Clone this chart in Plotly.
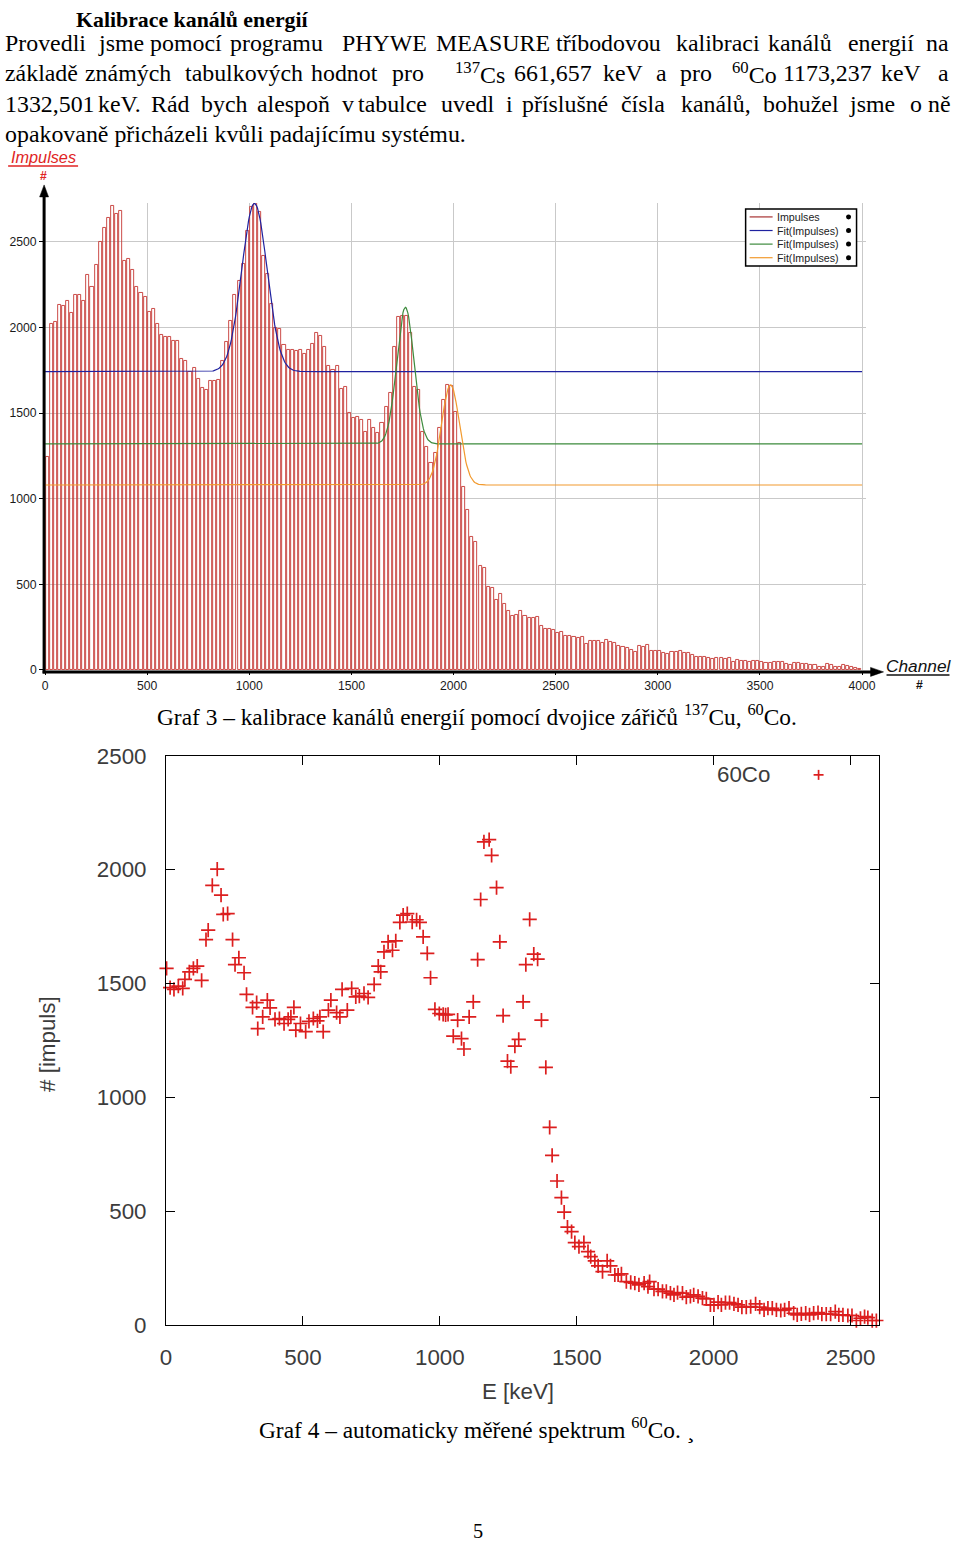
import numpy as np
import plotly.graph_objects as go

# Measured page -> photo mapping of this viewer: photo = S*(fig + margin) + C
S, CX, CY, M = 0.984, -2.0, 4.2, 8
K = 1 / S
W, H = 960, 1556


def px(t):
    return ((t - CX) / S - M) / W


def py(t):
    return 1 - ((t - CY) / S - M) / H


# ---------------- Graf 3 (PHYWE measure histogram) ----------------
bin_width = 20
impulses = [
    1246, 2020, 2035, 2133, 2125, 2153, 2088, 2188, 2188, 2153,
    2310, 2237, 2363, 2500, 2584, 2640, 2712, 2663, 2682, 2392,
    2402, 2339, 2237, 2202, 2178, 2090, 2110, 2022, 1957, 1947,
    1943, 1924, 1924, 1818, 1806, 1741, 1767, 1700, 1647, 1637,
    1688, 1688, 1692, 1806, 1914, 2039, 2192, 2271, 2369, 2565,
    2702, 2731, 2673, 2420, 2314, 2140, 1996, 1990, 1898, 1869,
    1869, 1865, 1869, 1846, 1869, 1905, 1970, 1951, 1889, 1778,
    1752, 1778, 1639, 1655, 1499, 1470, 1476, 1460, 1392, 1460,
    1412, 1382, 1441, 1538, 1616, 1889, 2064, 2067, 2067, 1966,
    1651, 1636, 1392, 1304, 1207, 1265, 1412, 1577, 1665, 1659,
    1509, 1328, 1071, 935, 779, 750, 607, 594, 483, 477,
    409, 442, 385, 346, 315, 321, 346, 315, 302, 302,
    307, 258, 237, 237, 233, 214, 224, 198, 198, 190,
    185, 190, 149, 169, 169, 169, 159, 175, 161, 156,
    142, 136, 130, 117, 107, 140, 132, 146, 113, 113,
    110, 101, 93, 107, 105, 113, 97, 97, 88, 78,
    78, 78, 68, 66, 70, 68, 64, 68, 48, 58,
    55, 55, 48, 52, 55, 48, 43, 39, 48, 48,
    48, 35, 29, 39, 39, 33, 33, 29, 27, 19,
    19, 33, 29, 19, 19, 29, 24, 15, 10, 4,
]
bin_centers = [bin_width * i + bin_width / 2 for i in range(len(impulses))]
top_x_ticks = [0, 500, 1000, 1500, 2000, 2500, 3000, 3500, 4000]
top_y_ticks = [0, 500, 1000, 1500, 2000, 2500]

# Gaussian fit parameters (centre, sigma, amplitude, baseline)
fit_center = [1025, 1764, 1985]
fit_sigma = [62, 42, 44]
fit_amplitude = [983, 798, 585]
fit_baseline = [1742, 1320, 1080]
fit_colors = ["#1f22a0", "#3d8b3d", "#f29a2e"]

# ---------------- Graf 4 (60Co spectrum) ----------------
energy_kev = [
    2, 15, 29, 45, 61, 69, 85, 100, 114, 130, 146, 154, 169, 187, 201, 209,
    225, 243, 252, 266, 285, 294, 316, 331, 335, 353, 370, 380, 398, 414,
    431, 446, 456, 467, 474, 491, 510, 522, 538, 553, 562, 574, 593, 602,
    623, 635, 643, 662, 678, 693, 706, 723, 738, 760, 775, 784, 796, 811,
    827, 839, 854, 866, 881, 899, 915, 927, 939, 954, 966, 982, 998, 1012,
    1021, 1030, 1049, 1065, 1079, 1088, 1107, 1122, 1138, 1149, 1161, 1180,
    1189, 1207, 1219, 1231, 1247, 1259, 1274, 1288, 1304, 1314, 1328, 1343,
    1357, 1371, 1387, 1401, 1410, 1428, 1444, 1454, 1466, 1481, 1493, 1508,
    1526, 1541, 1551, 1566, 1578, 1594, 1611, 1623, 1639, 1651, 1663, 1681,
    1697, 1712, 1727, 1746, 1760, 1766, 1782, 1797, 1813, 1827, 1842, 1855,
    1868, 1886, 1900, 1915, 1927, 1943, 1959, 1973, 1988, 2001, 2016, 2028,
    2043, 2058, 2074, 2089, 2103, 2119, 2135, 2153, 2168, 2184, 2198, 2214,
    2229, 2245, 2259, 2275, 2292, 2305, 2320, 2336, 2350, 2365, 2381, 2395,
    2411, 2427, 2444, 2457, 2472, 2490, 2505, 2521, 2536, 2551, 2563, 2579,
    2594,
]
impuls_counts = [
    1566, 1482, 1474, 1488, 1478, 1518, 1551, 1566, 1576, 1514, 1693, 1734,
    1931, 2002, 1888, 1804, 1807, 1693, 1583, 1613, 1547, 1452, 1395, 1416,
    1302, 1353, 1427, 1393, 1342, 1346, 1324, 1342, 1353, 1395, 1295, 1324,
    1288, 1333, 1346, 1336, 1353, 1288, 1383, 1427, 1372, 1353, 1474, 1383,
    1478, 1441, 1444, 1456, 1439, 1496, 1576, 1551, 1639, 1683, 1646, 1687,
    1768, 1800, 1807, 1770, 1780, 1768, 1705, 1632, 1525, 1386, 1368, 1364,
    1362, 1364, 1269, 1339, 1258, 1212, 1353, 1419, 1605, 1869, 2122, 2132,
    2063, 1921, 1683, 1359, 1159, 1134, 1225, 1254, 1419, 1583, 1782, 1629,
    1607, 1339, 1131, 868, 745, 632, 559, 495, 429, 410, 361, 344,
    361, 322, 300, 281, 259, 234, 281, 259, 219, 219, 224, 190,
    187, 183, 176, 183, 168, 190, 157, 157, 147, 147, 139, 132,
    142, 139, 122, 125, 132, 125, 117, 114, 88, 88, 100, 88,
    98, 98, 92, 88, 78, 78, 80, 92, 78, 66, 73, 73,
    66, 63, 66, 73, 51, 44, 48, 51, 44, 51, 54, 47,
    47, 47, 58, 44, 44, 41, 41, 19, 29, 36, 32, 19,
    19,
]
bottom_ticks = [0, 500, 1000, 1500, 2000, 2500]

fig = go.Figure()

# histogram bars (outline only)
fig.add_trace(go.Bar(
    x=bin_centers, y=impulses, width=15,
    marker=dict(color="rgba(255,255,255,0)", line=dict(color="#c53934", width=0.9)),
    xaxis="x", yaxis="y", showlegend=False, hoverinfo="skip",
))

# Gaussian fit curves
ch_grid = np.arange(0, 4001, 4)
for c, s, a, b, col in zip(fit_center, fit_sigma, fit_amplitude, fit_baseline, fit_colors):
    fit_y = b + a * np.exp(-0.5 * ((ch_grid - c) / s) ** 2)
    fig.add_trace(go.Scatter(
        x=ch_grid, y=fit_y, mode="lines", line=dict(color=col, width=1.2),
        xaxis="x", yaxis="y", showlegend=False, hoverinfo="skip",
    ))

# 60Co spectrum
fig.add_trace(go.Scatter(
    x=energy_kev, y=impuls_counts, mode="markers",
    marker=dict(symbol="cross-thin", size=10 * K, line=dict(color="#dc1e1e", width=1.7)),
    xaxis="x2", yaxis="y2", showlegend=False, cliponaxis=False,
))

top_tickfont = dict(family="Liberation Sans, Arial, sans-serif", size=12 * K, color="#1a1a1a")
bot_tickfont = dict(family="Liberation Sans, Arial, sans-serif", size=22 * K, color="#3c3c3c")

fig.update_layout(
    width=W, height=H,
    margin=dict(l=0, r=0, t=0, b=0),
    paper_bgcolor="white", plot_bgcolor="rgba(0,0,0,0)",
    bargap=0,
    xaxis=dict(
        domain=[px(44), px(866)], range=[-4.9, 4017], anchor="y",
        tickvals=top_x_ticks, ticktext=[str(v) for v in top_x_ticks],
        showgrid=True, gridcolor="#c9c9c9", gridwidth=1, zeroline=False,
        showline=False, ticks="outside", ticklen=4, tickcolor="#000", tickwidth=1,
        tickfont=top_tickfont,
    ),
    yaxis=dict(
        domain=[py(670), py(203)], range=[0, 2728], anchor="x",
        tickvals=top_y_ticks, ticktext=[str(v) for v in top_y_ticks],
        showgrid=True, gridcolor="#c9c9c9", gridwidth=1, zeroline=False,
        showline=False, ticks="outside", ticklen=4, tickcolor="#000", tickwidth=1,
        tickfont=top_tickfont,
    ),
    xaxis2=dict(
        domain=[px(166), px(879)], range=[0, 2602], anchor="y2",
        tickvals=bottom_ticks, ticktext=[str(v) for v in bottom_ticks],
        showgrid=False, zeroline=False, showline=True, linecolor="#000", linewidth=1,
        mirror="ticks", ticks="inside", ticklen=9, tickcolor="#000", tickwidth=1,
        tickfont=bot_tickfont, ticklabelstandoff=12,
    ),
    yaxis2=dict(
        domain=[py(1325), py(756)], range=[0, 2500], anchor="x2",
        tickvals=bottom_ticks, ticktext=[str(v) for v in bottom_ticks],
        showgrid=False, zeroline=False, showline=True, linecolor="#000", linewidth=1,
        mirror="ticks", ticks="inside", ticklen=9, tickcolor="#000", tickwidth=1,
        tickfont=bot_tickfont, ticklabelstandoff=14,
    ),
)

annotations = []
shapes = []

serif = "Liberation Serif, Times New Roman, serif"
sans = "Liberation Sans, Arial, sans-serif"


def text(x, y, s, size, family=serif, color="#000", xanchor="left", angle=0):
    annotations.append(dict(
        x=px(x), y=py(y), xref="paper", yref="paper", text=s, showarrow=False,
        xanchor=xanchor, yanchor="middle", textangle=angle, borderpad=0,
        font=dict(family=family, size=size * K, color=color),
    ))


def pline(x0, y0, x1, y1, color, width):
    shapes.append(dict(type="line", xref="paper", yref="paper", x0=px(x0), x1=px(x1),
                       y0=py(y0), y1=py(y1), line=dict(color=color, width=width)))


def ptri(pts, color):
    path = "M " + " L ".join(f"{px(a):.6f},{py(b):.6f}" for a, b in pts) + " Z"
    shapes.append(dict(type="path", xref="paper", yref="paper", path=path,
                       fillcolor=color, line=dict(color=color, width=0.5)))


# heading + paragraph (justified lines placed word by word)
text(75, 20, "<b>Kalibrace kanálů energií</b>", 21.5)
para_lines = [
    (43, [(4, "Provedli"), (97, "jsme"), (149, "pomocí"), (229, "programu"), (341, "PHYWE"),
          (435, "MEASURE"), (555, "tříbodovou"), (675, "kalibraci"), (767, "kanálů"),
          (847, "energií"), (925, "na")]),
    (73, [(4, "základě"), (84, "známých"), (184, "tabulkových"), (310, "hodnot"), (391, "pro"),
          (454, "<sup>137</sup>Cs"), (513, "661,657"), (602, "keV"), (655, "a"), (679, "pro"),
          (731, "<sup>60</sup>Co"), (782, "1173,237"), (880, "keV"), (938, "a")]),
    (104, [(4, "1332,501"), (97, "keV."), (150, "Rád"), (200, "bych"), (256, "alespoň"),
           (341, "v"), (357, "tabulce"), (440, "uvedl"), (505, "i"), (521, "příslušné"),
           (620, "čísla"), (680, "kanálů,"), (762, "bohužel"), (848, "jsme"), (909, "o"),
           (927, "ně")]),
    (134, [(4, "opakovaně přicházeli kvůli padajícímu systému.")]),
]
for y, words in para_lines:
    for x, w in words:
        text(x, y, w, 23.5)

# top chart axis lines with arrowheads
pline(44, 673.5, 44, 194, "#000", 3)
ptri([(39.5, 197), (44, 185), (48.5, 197)], "#000")
pline(42.5, 672, 872, 672, "#000", 3)
ptri([(871, 667.5), (884, 672), (871, 676.5)], "#000")

# top chart axis labels
text(43, 157, "<i>Impulses</i>", 16, family=sans, color="#e02424", xanchor="center")
pline(8, 166, 78, 166, "#e02424", 1.5)
text(43, 176, "<b>#</b>", 12, family=sans, color="#e02424", xanchor="center")
text(919, 666, "<i>Channel</i>", 17, family=sans, color="#111", xanchor="center")
pline(887, 675, 950, 675, "#111", 1.5)
text(920, 685, "<b>#</b>", 12, family=sans, color="#111", xanchor="center")

# top chart legend box
shapes.append(dict(type="rect", xref="paper", yref="paper", x0=px(746), x1=px(857),
                   y0=py(266), y1=py(209), line=dict(color="#000", width=1.5),
                   fillcolor="white", layer="above"))
legend_entries = [("Impulses", "#a83232"), ("Fit(Impulses)", fit_colors[0]),
                  ("Fit(Impulses)", fit_colors[1]), ("Fit(Impulses)", fit_colors[2])]
for k, (name, col) in enumerate(legend_entries):
    yy = 217 + k * 13.6
    pline(750, yy, 773, yy, col, 1.2)
    text(776, yy, name, 10.5, family=sans, color="#222")
    shapes.append(dict(type="circle", xref="paper", yref="paper", x0=px(846.5), x1=px(851.5),
                       y0=py(yy + 2.5), y1=py(yy - 2.5), fillcolor="#000",
                       line=dict(color="#000", width=0)))

# captions
text(477, 715, "Graf 3 – kalibrace kanálů energií pomocí dvojice zářičů <sup>137</sup>Cu, <sup>60</sup>Co.",
     23, xanchor="center")
text(477, 1428, "Graf 4 – automaticky měřené spektrum <sup>60</sup>Co. ¸", 23, xanchor="center")
text(478, 1531, "5", 20, xanchor="center")

# bottom chart titles and key
text(48, 1044, "# [impuls]", 22, family=sans, color="#3c3c3c", xanchor="center", angle=-90)
text(518, 1392, "E [keV]", 22, family=sans, color="#3c3c3c", xanchor="center")
text(771, 775, "60Co", 22, family=sans, color="#3c3c3c", xanchor="right")
pline(814, 775, 824, 775, "#dc1e1e", 1.7)
pline(819, 770, 819, 780, "#dc1e1e", 1.7)

fig.update_layout(annotations=annotations, shapes=shapes)
fig.write_html("out.html")
